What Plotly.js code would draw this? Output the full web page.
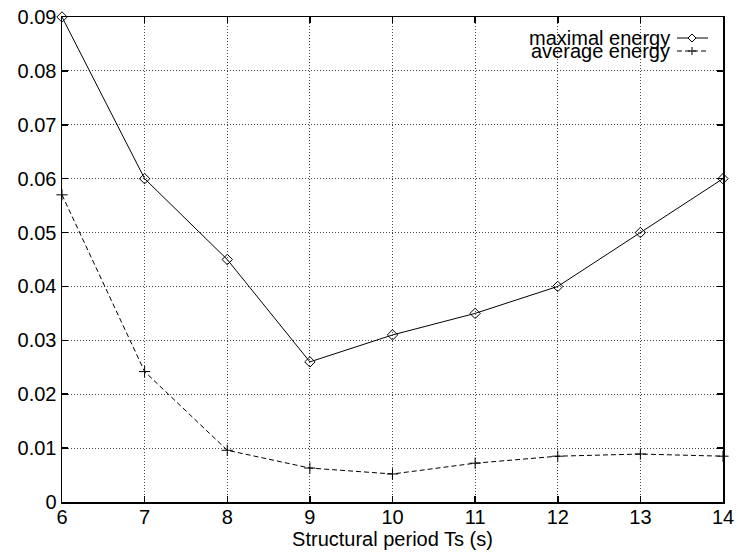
<!DOCTYPE html>
<html>
<head>
<meta charset="utf-8">
<script src="https://cdn.plot.ly/plotly-3.0.1.min.js"></script>
<style>html,body{margin:0;padding:0;background:#fff;}#chart{width:738px;height:556px;}</style>
</head>
<body>
<div id="chart"></div>
<script>
var periods = [6, 7, 8, 9, 10, 11, 12, 13, 14];
var maximalEnergy = [0.09, 0.06, 0.045, 0.026, 0.031, 0.035, 0.04, 0.05, 0.06];
var averageEnergy = [0.057, 0.0242, 0.0096, 0.0063, 0.0052, 0.0072, 0.0085, 0.0089, 0.0085];
var seriesNames = ["maximal energy", "average energy"];
var xTickVals = [6, 7, 8, 9, 10, 11, 12, 13, 14];
var yTickVals = [0, 0.01, 0.02, 0.03, 0.04, 0.05, 0.06, 0.07, 0.08, 0.09];
var yTickText = ["0", "0.01", "0.02", "0.03", "0.04", "0.05", "0.06", "0.07", "0.08", "0.09"];

var W = 738, H = 556, ML = 62, MR = 15, MT = 17, MB = 54;
var PW = W - ML - MR, PH = H - MT - MB;
function px(x) { return (x - ML) / PW; }
function py(y) { return (H - MB - y) / PH; }

var FONT = "Liberation Sans, Arial, sans-serif";

var traces = [
  {
    x: periods, y: maximalEnergy, name: seriesNames[0], type: "scatter", mode: "lines+markers",
    line: {color: "#000", width: 1},
    marker: {symbol: "diamond-open", size: 8, color: "#000", line: {width: 1, color: "#000"}},
    cliponaxis: false
  },
  {
    x: periods, y: averageEnergy, name: seriesNames[1], type: "scatter", mode: "lines+markers",
    line: {color: "#000", width: 1, dash: "5px,3px"},
    marker: {symbol: "cross-thin-open", size: 8, color: "#000", line: {width: 1, color: "#000"}},
    cliponaxis: false
  }
];

var legRows = [38, 51];
var lx0 = 677, lx1 = 708, lmid = 692;
var shapes = [];
shapes.push({type: "line", xref: "paper", yref: "paper", x0: px(lx0), x1: px(lx1), y0: py(legRows[0]), y1: py(legRows[0]), line: {color: "#000", width: 1}});
shapes.push({type: "path", xref: "paper", yref: "paper",
  path: "M " + px(lmid - 4) + " " + py(legRows[0]) + " L " + px(lmid) + " " + py(legRows[0] - 4) + " L " + px(lmid + 4) + " " + py(legRows[0]) + " L " + px(lmid) + " " + py(legRows[0] + 4) + " Z",
  fillcolor: "#fff", line: {color: "#000", width: 1}});
shapes.push({type: "line", xref: "paper", yref: "paper", x0: px(lx0), x1: px(lx1), y0: py(legRows[1]), y1: py(legRows[1]), line: {color: "#000", width: 1, dash: "5px,3px"}});
shapes.push({type: "line", xref: "paper", yref: "paper", x0: px(lmid - 4), x1: px(lmid + 4), y0: py(legRows[1]), y1: py(legRows[1]), line: {color: "#000", width: 1}});
shapes.push({type: "line", xref: "paper", yref: "paper", x0: px(lmid), x1: px(lmid), y0: py(legRows[1] - 4), y1: py(legRows[1] + 4), line: {color: "#000", width: 1}});

var annotations = [
  {xref: "paper", yref: "paper", x: px(672), y: py(legRows[0]), xanchor: "right", yanchor: "middle", text: seriesNames[0], showarrow: false, font: {family: FONT, size: 20, color: "#000"}},
  {xref: "paper", yref: "paper", x: px(672), y: py(legRows[1]), xanchor: "right", yanchor: "middle", text: seriesNames[1], showarrow: false, font: {family: FONT, size: 20, color: "#000"}}
];

var axisCommon = {
  showline: true, linecolor: "#000", linewidth: 1.5, mirror: "allticks",
  ticks: "inside", ticklen: 6, tickcolor: "#000", tickwidth: 1.5,
  showgrid: true, gridcolor: "#444", gridwidth: 1, griddash: "1px,2px",
  zeroline: false,
  tickfont: {family: FONT, size: 20, color: "#000"}
};

var layout = {
  width: W, height: H,
  margin: {l: ML, r: MR, t: MT, b: MB, pad: 0},
  paper_bgcolor: "#fff", plot_bgcolor: "#fff",
  showlegend: false,
  font: {family: FONT, color: "#000"},
  xaxis: Object.assign({}, axisCommon, {
    range: [6, 14], tickmode: "array", tickvals: xTickVals, ticktext: xTickVals.map(String),
    ticklabelstandoff: -4,
    title: {text: "Structural period Ts (s)", font: {family: FONT, size: 20, color: "#000"}, standoff: 0}
  }),
  yaxis: Object.assign({}, axisCommon, {
    range: [0, 0.09], tickmode: "array", tickvals: yTickVals, ticktext: yTickText
  }),
  shapes: shapes,
  annotations: annotations
};

Plotly.newPlot("chart", traces, layout, {displayModeBar: false, staticPlot: true});
</script>
</body>
</html>
